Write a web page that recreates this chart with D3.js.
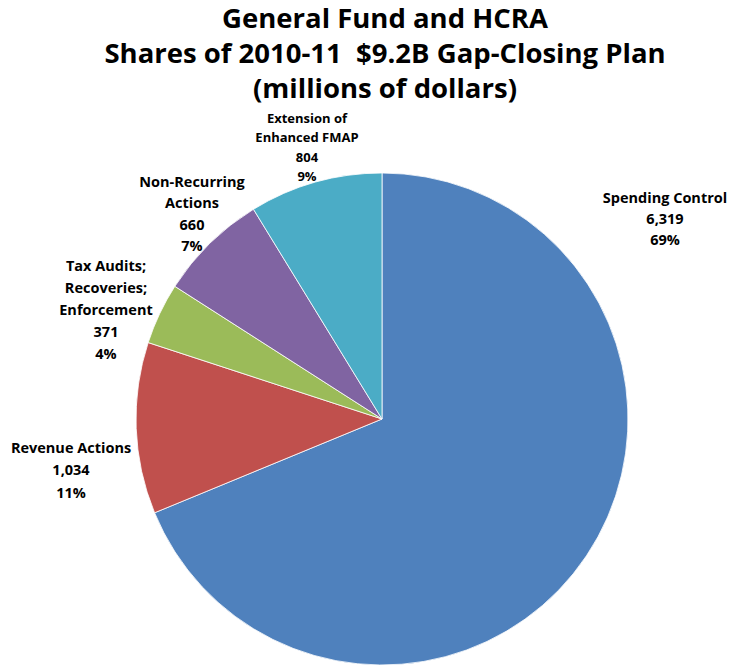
<!DOCTYPE html>
<html>
<head>
<meta charset="utf-8">
<script src="https://cdn.jsdelivr.net/npm/d3@7"></script>
<style>
  html, body { margin: 0; padding: 0; background: #fff; }
  svg { display: block; }
  text { font-family: "Open Sans", Lato, sans-serif; font-weight: bold; fill: #000; white-space: pre; }
</style>
</head>
<body>
<svg id="chart" width="731" height="665"></svg>
<script>
// Gap-closing plan components, millions of dollars
const categories = [
  "Spending Control",
  "Revenue Actions",
  "Tax Audits; Recoveries; Enforcement",
  "Non-Recurring Actions",
  "Extension of Enhanced FMAP"
];
const values = [6319, 1034, 371, 660, 804];

// Label text split into lines as printed
const labelLines = [
  ["Spending Control"],
  ["Revenue Actions"],
  ["Tax Audits;", "Recoveries;", "Enforcement"],
  ["Non-Recurring", "Actions"],
  ["Extension of", "Enhanced FMAP"]
];

const titleLines = [
  "General Fund and HCRA",
  "Shares of 2010-11  $9.2B Gap-Closing Plan",
  "(millions of dollars)"
];

const colors = ["#4F81BD", "#C0504D", "#9BBB59", "#8064A2", "#4BACC6"];

// Label block placement (first line centre, line step, font size) per slice
const labelLayout = [
  { x: 665, y: 197, step: 21.2, size: 14.5 },
  { x: 71,  y: 447, step: 22.5, size: 14.5 },
  { x: 106, y: 265, step: 22.2, size: 14.5 },
  { x: 192, y: 181, step: 21.5, size: 14.5 },
  { x: 307, y: 118, step: 19.4, size: 13 }
];

const svg = d3.select("#chart");
const cx = 382, cy = 419, radius = 246;

// Title
svg.append("g")
  .selectAll("text")
  .data(titleLines)
  .join("text")
  .attr("x", 385)
  .attr("y", (d, i) => 17 + i * 35)
  .attr("text-anchor", "middle")
  .attr("dominant-baseline", "central")
  .style("font-size", "27.5px")
  .text(d => d);

const total = d3.sum(values);
const rows = categories.map((c, i) => ({ name: c, value: values[i], i }));

const pie = d3.pie()
  .value(d => d.value)
  .sort(null)
  .startAngle(0)
  .endAngle(2 * Math.PI);

const arc = d3.arc().innerRadius(0).outerRadius(radius);

const g = svg.append("g").attr("transform", `translate(${cx},${cy})`);
g.selectAll("path")
  .data(pie(rows))
  .join("path")
  .attr("d", arc)
  .attr("fill", d => colors[d.data.i])
  .attr("stroke", "#fff")
  .attr("stroke-width", 0.8);

// Data labels: category lines, value, percent
const fmt = d3.format(",");
const labels = svg.append("g");
rows.forEach((r, i) => {
  const lay = labelLayout[i];
  const lines = labelLines[i].concat([fmt(r.value), Math.round(r.value / total * 100) + "%"]);
  labels.append("g")
    .selectAll("text")
    .data(lines)
    .join("text")
    .attr("x", lay.x)
    .attr("y", (d, k) => lay.y + k * lay.step)
    .attr("text-anchor", "middle")
    .attr("dominant-baseline", "central")
    .style("font-size", lay.size + "px")
    .text(d => d);
});
</script>
</body>
</html>
